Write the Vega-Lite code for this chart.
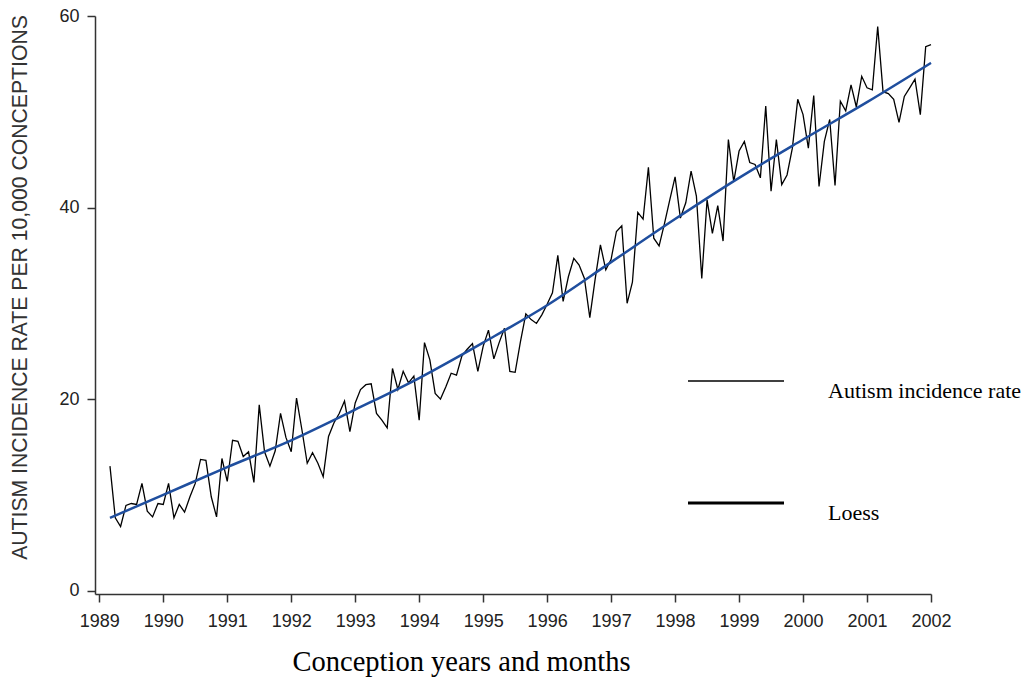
{
  "$schema": "https://vega.github.io/schema/vega-lite/v6.json",
  "width": 836,
  "height": 578,
  "autosize": {"type": "none"},
  "padding": {"left": 95, "top": 16, "right": 102, "bottom": 85},
  "background": "white",
  "config": {
    "view": {"stroke": null},
    "axis": {"grid": false, "domainColor": "#333333", "tickColor": "#333333", "domainWidth": 1.5, "tickWidth": 1.5, "tickSize": 8, "labelFont": "Liberation Sans", "labelFontSize": 18, "labelColor": "#222222", "titleFontWeight": "normal"}
  },
  "datasets": {
    "rate": [
      {"t": 1989.167, "rate": 13.0}, {"t": 1989.25, "rate": 7.6}, {"t": 1989.333, "rate": 6.7}, {"t": 1989.417, "rate": 8.9}, {"t": 1989.5, "rate": 9.1}, {"t": 1989.583, "rate": 9.0}, {"t": 1989.667, "rate": 11.2}, {"t": 1989.75, "rate": 8.3}, {"t": 1989.833, "rate": 7.7}, {"t": 1989.917, "rate": 9.1}, {"t": 1990.0, "rate": 9.0},
      {"t": 1990.083, "rate": 11.2}, {"t": 1990.167, "rate": 7.6}, {"t": 1990.25, "rate": 9.0}, {"t": 1990.333, "rate": 8.2}, {"t": 1990.417, "rate": 9.8}, {"t": 1990.5, "rate": 11.2}, {"t": 1990.583, "rate": 13.7}, {"t": 1990.667, "rate": 13.6}, {"t": 1990.75, "rate": 9.8}, {"t": 1990.833, "rate": 7.7}, {"t": 1990.917, "rate": 13.8}, {"t": 1991.0, "rate": 11.4},
      {"t": 1991.083, "rate": 15.7}, {"t": 1991.167, "rate": 15.6}, {"t": 1991.25, "rate": 14.0}, {"t": 1991.333, "rate": 14.5}, {"t": 1991.417, "rate": 11.3}, {"t": 1991.5, "rate": 19.4}, {"t": 1991.583, "rate": 14.5}, {"t": 1991.667, "rate": 13.0}, {"t": 1991.75, "rate": 14.6}, {"t": 1991.833, "rate": 18.5}, {"t": 1991.917, "rate": 16.0}, {"t": 1992.0, "rate": 14.5},
      {"t": 1992.083, "rate": 20.1}, {"t": 1992.167, "rate": 16.8}, {"t": 1992.25, "rate": 13.3}, {"t": 1992.333, "rate": 14.4}, {"t": 1992.417, "rate": 13.3}, {"t": 1992.5, "rate": 11.9}, {"t": 1992.583, "rate": 16.1}, {"t": 1992.667, "rate": 17.5}, {"t": 1992.75, "rate": 18.5}, {"t": 1992.833, "rate": 19.8}, {"t": 1992.917, "rate": 16.6}, {"t": 1993.0, "rate": 19.6},
      {"t": 1993.083, "rate": 21.0}, {"t": 1993.167, "rate": 21.5}, {"t": 1993.25, "rate": 21.6}, {"t": 1993.333, "rate": 18.5}, {"t": 1993.417, "rate": 17.8}, {"t": 1993.5, "rate": 17.0}, {"t": 1993.583, "rate": 23.2}, {"t": 1993.667, "rate": 21.0}, {"t": 1993.75, "rate": 22.9}, {"t": 1993.833, "rate": 21.7}, {"t": 1993.917, "rate": 22.4}, {"t": 1994.0, "rate": 17.8},
      {"t": 1994.083, "rate": 25.9}, {"t": 1994.167, "rate": 24.1}, {"t": 1994.25, "rate": 20.6}, {"t": 1994.333, "rate": 20.0}, {"t": 1994.417, "rate": 21.3}, {"t": 1994.5, "rate": 22.7}, {"t": 1994.583, "rate": 22.5}, {"t": 1994.667, "rate": 24.5}, {"t": 1994.75, "rate": 25.2}, {"t": 1994.833, "rate": 25.8}, {"t": 1994.917, "rate": 22.9}, {"t": 1995.0, "rate": 25.5},
      {"t": 1995.083, "rate": 27.2}, {"t": 1995.167, "rate": 24.2}, {"t": 1995.25, "rate": 25.9}, {"t": 1995.333, "rate": 27.4}, {"t": 1995.417, "rate": 22.9}, {"t": 1995.5, "rate": 22.8}, {"t": 1995.583, "rate": 26.0}, {"t": 1995.667, "rate": 28.9}, {"t": 1995.75, "rate": 28.3}, {"t": 1995.833, "rate": 27.9}, {"t": 1995.917, "rate": 28.8}, {"t": 1996.0, "rate": 29.9},
      {"t": 1996.083, "rate": 31.1}, {"t": 1996.167, "rate": 35.0}, {"t": 1996.25, "rate": 30.2}, {"t": 1996.333, "rate": 32.8}, {"t": 1996.417, "rate": 34.7}, {"t": 1996.5, "rate": 34.0}, {"t": 1996.583, "rate": 32.6}, {"t": 1996.667, "rate": 28.5}, {"t": 1996.75, "rate": 32.5}, {"t": 1996.833, "rate": 36.1}, {"t": 1996.917, "rate": 33.5}, {"t": 1997.0, "rate": 34.6},
      {"t": 1997.083, "rate": 37.5}, {"t": 1997.167, "rate": 38.1}, {"t": 1997.25, "rate": 30.0}, {"t": 1997.333, "rate": 32.2}, {"t": 1997.417, "rate": 39.5}, {"t": 1997.5, "rate": 38.8}, {"t": 1997.583, "rate": 44.2}, {"t": 1997.667, "rate": 36.8}, {"t": 1997.75, "rate": 36.0}, {"t": 1997.833, "rate": 38.3}, {"t": 1997.917, "rate": 40.8}, {"t": 1998.0, "rate": 43.2},
      {"t": 1998.083, "rate": 38.9}, {"t": 1998.167, "rate": 40.5}, {"t": 1998.25, "rate": 43.8}, {"t": 1998.333, "rate": 41.2}, {"t": 1998.417, "rate": 32.6}, {"t": 1998.5, "rate": 40.8}, {"t": 1998.583, "rate": 37.3}, {"t": 1998.667, "rate": 40.2}, {"t": 1998.75, "rate": 36.5}, {"t": 1998.833, "rate": 47.1}, {"t": 1998.917, "rate": 42.7}, {"t": 1999.0, "rate": 45.9},
      {"t": 1999.083, "rate": 46.9}, {"t": 1999.167, "rate": 44.7}, {"t": 1999.25, "rate": 44.5}, {"t": 1999.333, "rate": 43.1}, {"t": 1999.417, "rate": 50.6}, {"t": 1999.5, "rate": 41.7}, {"t": 1999.583, "rate": 47.1}, {"t": 1999.667, "rate": 42.4}, {"t": 1999.75, "rate": 43.4}, {"t": 1999.833, "rate": 46.2}, {"t": 1999.917, "rate": 51.3}, {"t": 2000.0, "rate": 49.7},
      {"t": 2000.083, "rate": 46.2}, {"t": 2000.167, "rate": 51.7}, {"t": 2000.25, "rate": 42.2}, {"t": 2000.333, "rate": 46.9}, {"t": 2000.417, "rate": 49.2}, {"t": 2000.5, "rate": 42.3}, {"t": 2000.583, "rate": 51.1}, {"t": 2000.667, "rate": 50.1}, {"t": 2000.75, "rate": 52.8}, {"t": 2000.833, "rate": 50.5}, {"t": 2000.917, "rate": 53.7}, {"t": 2001.0, "rate": 52.5},
      {"t": 2001.083, "rate": 52.3}, {"t": 2001.167, "rate": 58.9}, {"t": 2001.25, "rate": 52.1}, {"t": 2001.333, "rate": 51.9}, {"t": 2001.417, "rate": 51.3}, {"t": 2001.5, "rate": 48.9}, {"t": 2001.583, "rate": 51.6}, {"t": 2001.667, "rate": 52.5}, {"t": 2001.75, "rate": 53.4}, {"t": 2001.833, "rate": 49.7}, {"t": 2001.917, "rate": 56.8}, {"t": 2002.0, "rate": 57.0}
    ],
    "loess": [
      {"t": 1989.167, "rate": 7.6}, {"t": 1990, "rate": 10.0}, {"t": 1991, "rate": 12.9}, {"t": 1992, "rate": 15.7}, {"t": 1993, "rate": 18.9}, {"t": 1994, "rate": 22.2}, {"t": 1995, "rate": 25.9}, {"t": 1996, "rate": 29.8}, {"t": 1997, "rate": 34.3}, {"t": 1998, "rate": 38.8}, {"t": 1999, "rate": 43.1}, {"t": 2000, "rate": 47.1}, {"t": 2001, "rate": 51.0}, {"t": 2002, "rate": 55.1}
    ]
  },
  "encoding": {
    "x": {
      "field": "t", "type": "quantitative",
      "scale": {"domain": [1988.933, 2002], "nice": false, "zero": false},
      "axis": {
        "values": [1989, 1990, 1991, 1992, 1993, 1994, 1995, 1996, 1997, 1998, 1999, 2000, 2001, 2002],
        "format": "d", "labelPadding": 10, "labelFlush": false, "labelOverlap": false,
        "title": "Conception years and months", "titleFont": "Liberation Serif", "titleFontSize": 28.5, "titleColor": "black",
        "titleX": 366, "titleY": 76, "titleAlign": "center", "titleBaseline": "alphabetic"
      }
    },
    "y": {
      "field": "rate", "type": "quantitative",
      "scale": {"domain": [-0.35, 60], "nice": false, "zero": false},
      "axis": {
        "values": [0, 20, 40, 60], "labelPadding": 8, "labelFlush": false,
        "title": "AUTISM INCIDENCE RATE PER 10,000 CONCEPTIONS", "titleFont": "Liberation Sans", "titleFontSize": 21.2, "titleColor": "#333333",
        "titleX": -75, "titleY": 271, "titleAlign": "center", "titleBaseline": "middle", "titleAngle": -90
      }
    }
  },
  "layer": [
    {
      "data": {"name": "rate"},
      "mark": {"type": "line", "color": "black", "strokeJoin": "miter"},
      "encoding": {
        "strokeWidth": {
          "datum": "Autism incidence rate", "type": "nominal",
          "scale": {"type": "ordinal", "domain": ["Autism incidence rate", "Loess"], "range": [1.3, 3.2]},
          "legend": {
            "orient": "none", "legendX": 591, "legendY": 316, "title": null, "padding": 0,
            "symbolType": "stroke", "symbolSize": 9216, "symbolStrokeColor": "black",
            "labelFont": "Liberation Serif", "labelFontSize": 22, "labelColor": "black", "labelLimit": 0,
            "labelOffset": 42, "labelBaseline": "top", "rowPadding": 51
          }
        }
      }
    },
    {
      "data": {"name": "loess"},
      "mark": {"type": "line", "color": "#1f4e9e", "interpolate": "monotone"},
      "encoding": {
        "strokeWidth": {"datum": "Loess", "type": "nominal", "legend": null}
      }
    }
  ]
}
